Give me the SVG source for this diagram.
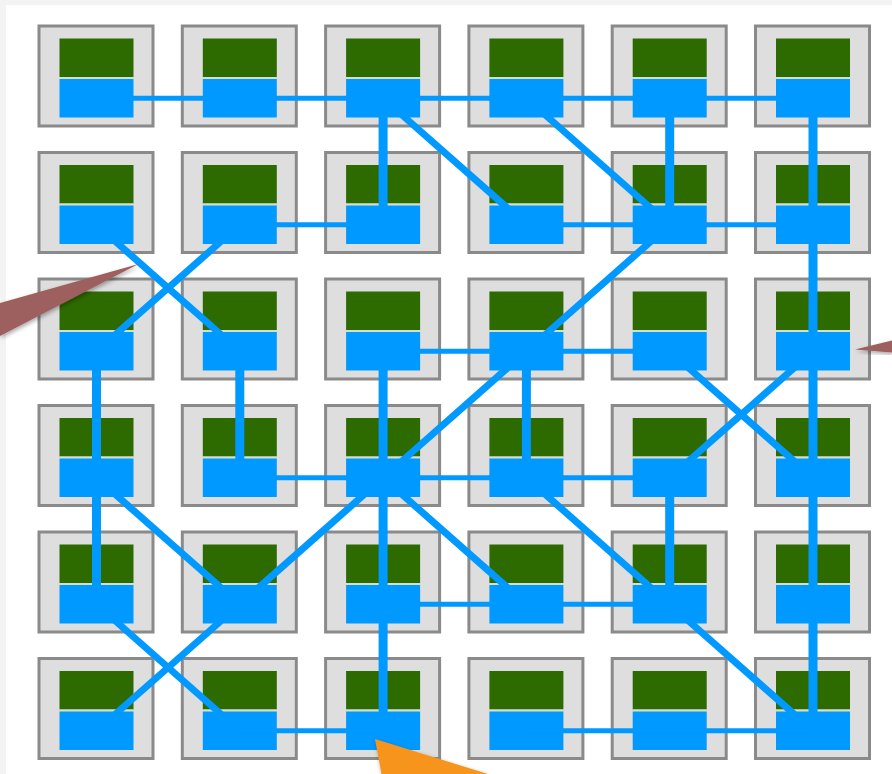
<svg xmlns="http://www.w3.org/2000/svg" xmlns:xlink="http://www.w3.org/1999/xlink" width="892" height="774" viewBox="0 0 892 774">
<style>
.tile{fill:#dedede;stroke:#8a8a8a;stroke-width:3}
.core{fill:#2d6a00}
.sep{fill:#d6dfc8}
.port{fill:#0099ff}
.h{stroke:#0099ff;stroke-width:5;stroke-linecap:butt}
.v{stroke:#0099ff;stroke-width:9;stroke-linecap:butt}
.d{stroke:#0099ff;stroke-width:7;stroke-linecap:butt}
.ptr{fill:#9e5e5f}
.ptr2{fill:#f7941d}
</style>
<defs>
<filter id="sh" x="-20%" y="-20%" width="140%" height="140%">
<feDropShadow dx="1" dy="2" stdDeviation="2" flood-color="#000" flood-opacity="0.35"/>
</filter>
<g id="tileshape">
<rect class="tile" x="1.5" y="1.5" width="114" height="100"/>
<rect class="core" x="22" y="14" width="74" height="38.5"/>
<rect class="sep" x="22" y="52.5" width="74" height="2"/>
<rect class="port" x="22" y="54.5" width="74" height="38.5"/>
</g>
</defs>
<rect x="0" y="0" width="892" height="774" fill="#f3f3f3"/>
<rect x="6" y="5" width="886" height="769" fill="#ffffff"/>
<g id="nodes">
<g id="n0-0" transform="translate(37.5,24.5)"><use xlink:href="#tileshape"/></g>
<g id="n1-0" transform="translate(180.8,24.5)"><use xlink:href="#tileshape"/></g>
<g id="n2-0" transform="translate(324.1,24.5)"><use xlink:href="#tileshape"/></g>
<g id="n3-0" transform="translate(467.4,24.5)"><use xlink:href="#tileshape"/></g>
<g id="n4-0" transform="translate(610.7,24.5)"><use xlink:href="#tileshape"/></g>
<g id="n5-0" transform="translate(754,24.5)"><use xlink:href="#tileshape"/></g>
<g id="n0-1" transform="translate(37.5,151)"><use xlink:href="#tileshape"/></g>
<g id="n1-1" transform="translate(180.8,151)"><use xlink:href="#tileshape"/></g>
<g id="n2-1" transform="translate(324.1,151)"><use xlink:href="#tileshape"/></g>
<g id="n3-1" transform="translate(467.4,151)"><use xlink:href="#tileshape"/></g>
<g id="n4-1" transform="translate(610.7,151)"><use xlink:href="#tileshape"/></g>
<g id="n5-1" transform="translate(754,151)"><use xlink:href="#tileshape"/></g>
<g id="n0-2" transform="translate(37.5,277.5)"><use xlink:href="#tileshape"/></g>
<g id="n1-2" transform="translate(180.8,277.5)"><use xlink:href="#tileshape"/></g>
<g id="n2-2" transform="translate(324.1,277.5)"><use xlink:href="#tileshape"/></g>
<g id="n3-2" transform="translate(467.4,277.5)"><use xlink:href="#tileshape"/></g>
<g id="n4-2" transform="translate(610.7,277.5)"><use xlink:href="#tileshape"/></g>
<g id="n5-2" transform="translate(754,277.5)"><use xlink:href="#tileshape"/></g>
<g id="n0-3" transform="translate(37.5,404)"><use xlink:href="#tileshape"/></g>
<g id="n1-3" transform="translate(180.8,404)"><use xlink:href="#tileshape"/></g>
<g id="n2-3" transform="translate(324.1,404)"><use xlink:href="#tileshape"/></g>
<g id="n3-3" transform="translate(467.4,404)"><use xlink:href="#tileshape"/></g>
<g id="n4-3" transform="translate(610.7,404)"><use xlink:href="#tileshape"/></g>
<g id="n5-3" transform="translate(754,404)"><use xlink:href="#tileshape"/></g>
<g id="n0-4" transform="translate(37.5,530.5)"><use xlink:href="#tileshape"/></g>
<g id="n1-4" transform="translate(180.8,530.5)"><use xlink:href="#tileshape"/></g>
<g id="n2-4" transform="translate(324.1,530.5)"><use xlink:href="#tileshape"/></g>
<g id="n3-4" transform="translate(467.4,530.5)"><use xlink:href="#tileshape"/></g>
<g id="n4-4" transform="translate(610.7,530.5)"><use xlink:href="#tileshape"/></g>
<g id="n5-4" transform="translate(754,530.5)"><use xlink:href="#tileshape"/></g>
<g id="n0-5" transform="translate(37.5,657)"><use xlink:href="#tileshape"/></g>
<g id="n1-5" transform="translate(180.8,657)"><use xlink:href="#tileshape"/></g>
<g id="n2-5" transform="translate(324.1,657)"><use xlink:href="#tileshape"/></g>
<g id="n3-5" transform="translate(467.4,657)"><use xlink:href="#tileshape"/></g>
<g id="n4-5" transform="translate(610.7,657)"><use xlink:href="#tileshape"/></g>
<g id="n5-5" transform="translate(754,657)"><use xlink:href="#tileshape"/></g>
</g>
<g id="connectors">
<line class="h" x1="96.5" y1="98.25" x2="239.8" y2="98.25"/>
<line class="h" x1="239.8" y1="98.25" x2="383.1" y2="98.25"/>
<line class="h" x1="383.1" y1="98.25" x2="526.4" y2="98.25"/>
<line class="h" x1="526.4" y1="98.25" x2="669.7" y2="98.25"/>
<line class="h" x1="669.7" y1="98.25" x2="813" y2="98.25"/>
<line class="h" x1="239.8" y1="224.75" x2="383.1" y2="224.75"/>
<line class="h" x1="526.4" y1="224.75" x2="669.7" y2="224.75"/>
<line class="h" x1="669.7" y1="224.75" x2="813" y2="224.75"/>
<line class="h" x1="383.1" y1="351.25" x2="526.4" y2="351.25"/>
<line class="h" x1="526.4" y1="351.25" x2="669.7" y2="351.25"/>
<line class="h" x1="239.8" y1="477.75" x2="383.1" y2="477.75"/>
<line class="h" x1="383.1" y1="477.75" x2="526.4" y2="477.75"/>
<line class="h" x1="526.4" y1="477.75" x2="669.7" y2="477.75"/>
<line class="h" x1="383.1" y1="604.25" x2="526.4" y2="604.25"/>
<line class="h" x1="526.4" y1="604.25" x2="669.7" y2="604.25"/>
<line class="h" x1="239.8" y1="730.75" x2="383.1" y2="730.75"/>
<line class="h" x1="526.4" y1="730.75" x2="669.7" y2="730.75"/>
<line class="h" x1="669.7" y1="730.75" x2="813" y2="730.75"/>
<line class="v" x1="383.1" y1="98.25" x2="383.1" y2="224.75"/>
<line class="v" x1="669.7" y1="98.25" x2="669.7" y2="224.75"/>
<line class="v" x1="813" y1="98.25" x2="813" y2="224.75"/>
<line class="v" x1="813" y1="224.75" x2="813" y2="351.25"/>
<line class="v" x1="813" y1="351.25" x2="813" y2="477.75"/>
<line class="v" x1="813" y1="477.75" x2="813" y2="604.25"/>
<line class="v" x1="813" y1="604.25" x2="813" y2="730.75"/>
<line class="v" x1="96.5" y1="351.25" x2="96.5" y2="477.75"/>
<line class="v" x1="239.8" y1="351.25" x2="239.8" y2="477.75"/>
<line class="v" x1="383.1" y1="351.25" x2="383.1" y2="477.75"/>
<line class="v" x1="526.4" y1="351.25" x2="526.4" y2="477.75"/>
<line class="v" x1="96.5" y1="477.75" x2="96.5" y2="604.25"/>
<line class="v" x1="383.1" y1="477.75" x2="383.1" y2="604.25"/>
<line class="v" x1="669.7" y1="477.75" x2="669.7" y2="604.25"/>
<line class="v" x1="383.1" y1="604.25" x2="383.1" y2="730.75"/>
<line class="d" x1="383.1" y1="98.25" x2="526.4" y2="224.75"/>
<line class="d" x1="526.4" y1="98.25" x2="669.7" y2="224.75"/>
<line class="d" x1="96.5" y1="224.75" x2="239.8" y2="351.25"/>
<line class="d" x1="239.8" y1="224.75" x2="96.5" y2="351.25"/>
<line class="d" x1="669.7" y1="224.75" x2="526.4" y2="351.25"/>
<line class="d" x1="526.4" y1="351.25" x2="383.1" y2="477.75"/>
<line class="d" x1="669.7" y1="351.25" x2="813" y2="477.75"/>
<line class="d" x1="813" y1="351.25" x2="669.7" y2="477.75"/>
<line class="d" x1="96.5" y1="477.75" x2="239.8" y2="604.25"/>
<line class="d" x1="383.1" y1="477.75" x2="239.8" y2="604.25"/>
<line class="d" x1="383.1" y1="477.75" x2="526.4" y2="604.25"/>
<line class="d" x1="526.4" y1="477.75" x2="669.7" y2="604.25"/>
<line class="d" x1="96.5" y1="604.25" x2="239.8" y2="730.75"/>
<line class="d" x1="239.8" y1="604.25" x2="96.5" y2="730.75"/>
<line class="d" x1="669.7" y1="604.25" x2="813" y2="730.75"/>
</g>
<g id="pointers">
<polygon class="ptr" filter="url(#sh)" points="138.5,264 0,303 0,336"/>
<polygon class="ptr" filter="url(#sh)" points="855,349.5 892,340.5 892,352.5"/>
<polygon class="ptr2" filter="url(#sh)" points="375,739 381.5,774 488,774"/>
</g>
</svg>
